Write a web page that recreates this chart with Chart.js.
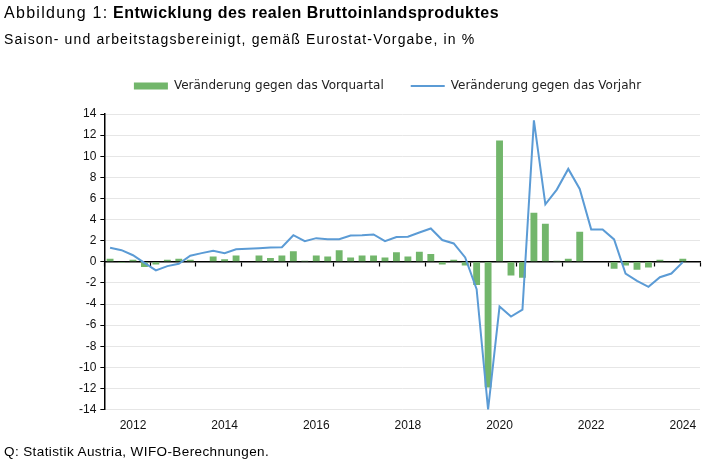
<!DOCTYPE html>
<html><head><meta charset="utf-8">
<script src="https://cdn.jsdelivr.net/npm/chart.js@4"></script>
<style>
html,body{margin:0;padding:0;background:#fff;width:712px;height:465px;overflow:hidden;font-family:"Liberation Sans",Arial,sans-serif;color:#000}
#wrap{position:relative;width:712px;height:465px}
#c{position:absolute;left:0;top:0;width:712px;height:465px}
.t{position:absolute;left:4px;white-space:nowrap;line-height:1}
#title{top:5px;font-size:16px}
#title .n{letter-spacing:1.3px}
#title b{letter-spacing:0.5px}
#sub{top:32px;font-size:14px;letter-spacing:1.15px}
#src{top:445px;font-size:13.5px;letter-spacing:0.4px}
</style></head><body>
<div id="wrap">
<canvas id="c" width="712" height="465"></canvas>
<div class="t" id="title"><span class="n">Abbildung 1:</span> <b>Entwicklung des realen Bruttoinlandsproduktes</b></div>
<div class="t" id="sub">Saison- und arbeitstagsbereinigt, gemäß Eurostat-Vorgabe, in %</div>
<div class="t" id="src">Q: Statistik Austria, WIFO-Berechnungen.</div>
</div>
<script>
const years = [2012,2013,2014,2015,2016,2017,2018,2019,2020,2021,2022,2023,2024];
const quarters = ['Q1','Q2','Q3','Q4'];
const categories = [];
years.forEach(y => quarters.forEach(q => categories.push(y + q)));
const yearTickLabels = ['2012','2014','2016','2018','2020','2022','2024'];

// Veränderung gegen das Vorquartal (%)
const qoq = [0.3,-0.1,0.2,-0.5, -0.25,0.2,0.3,0.2, 0.0,0.5,0.25,0.6, 0.0,0.6,0.35,0.6,
  1.0,0.1,0.6,0.5, 1.1,0.4,0.6,0.6, 0.4,0.9,0.5,0.95, 0.75,-0.25,0.2,-0.35,
  -2.2,-11.9,11.5,-1.3, -1.5,4.65,3.6,0.1, 0.3,2.85,0.0,0.0, -0.65,-0.35,-0.75,-0.55,
  0.2,0.0,0.3,null];
// Veränderung gegen das Vorjahr (%)
const yoy = [1.33,1.1,0.62,-0.1, -0.82,-0.41,-0.19,0.57, 0.82,1.04,0.82,1.19, 1.23,1.29,1.35,1.38,
  2.52,1.95,2.24,2.14, 2.14,2.49,2.52,2.59, 1.95,2.35,2.37,2.78, 3.16,2.06,1.74,0.41,
  -2.6,-14.0,-4.24,-5.19, -4.53,13.4,5.44,6.84, 8.8,6.9,3.07,3.07, 2.12,-1.11,-1.8,-2.37,
  -1.46,-1.11,-0.03,null];

const FONT = '"Liberation Sans", Arial, sans-serif';
Chart.defaults.font.family = FONT;
Chart.defaults.color = '#111';

new Chart(document.getElementById('c'), {
  type: 'bar',
  data: {
    labels: categories,
    datasets: [
      { type: 'bar', label: 'Veränderung gegen das Vorquartal', data: qoq,
        backgroundColor: '#72b66b', borderWidth: 0, categoryPercentage: 1, barPercentage: 0.6,
        order: 1, pointStyle: 'rect', xAxisID: 'x', yAxisID: 'y' },
      { type: 'line', label: 'Veränderung gegen das Vorjahr', data: yoy,
        borderColor: '#5b9bd5', backgroundColor: '#5b9bd5', borderWidth: 2, pointRadius: 0,
        tension: 0, order: 0, pointStyle: 'line', fill: false, xAxisID: 'x', yAxisID: 'y' }
    ]
  },
  options: {
    responsive: false,
    animation: false,
    layout: { padding: { top: 53, left: 75, right: 12, bottom: 23 } },
    plugins: {
      tooltip: { enabled: false },
      legend: {
        position: 'top',
        labels: {
          usePointStyle: true, pointStyleWidth: 34, boxHeight: 7, padding: 27,
          color: '#222', font: { size: 12, family: '"DejaVu Sans", sans-serif' },
          sort: (a, b) => a.datasetIndex - b.datasetIndex
        }
      },
      subtitle: {
        display: true, text: '', weight: 100, position: 'top',
        padding: 0, font: { size: 12, lineHeight: 1 }
      }
    },
    scales: {
      x: {
        type: 'category', position: 'bottom', offset: true,
        grid: { display: false, drawTicks: false, offset: true },
        border: { display: false },
        ticks: {
          autoSkip: false, maxRotation: 0, padding: 9, color: '#111', font: { size: 12 },
          callback: function (v, i) {
            const lab = categories[i];
            const y = lab.slice(0, 4);
            return (lab.endsWith('Q3') && yearTickLabels.includes(y)) ? y : '';
          }
        }
      },
      x2: {
        axis: 'x', type: 'category', labels: categories, offset: true, position: { y: 0 },
        grid: {
          offset: true, drawOnChartArea: false, drawTicks: true, tickLength: 4, tickWidth: 1.2,
          tickColor: c => (c.index === undefined || c.index % 4 === 0) ? '#000' : 'rgba(0,0,0,0)'
        },
        border: { display: true, color: '#000', width: 1.5 },
        ticks: { display: false }
      },
      y: {
        min: -14, max: 14,
        ticks: { stepSize: 2, padding: 4, color: '#111', font: { size: 12 }, callback: v => String(v) },
        grid: { color: '#e6e6e6', lineWidth: 1, drawTicks: true, tickLength: 4, tickColor: '#000' },
        border: { display: true, color: '#000', width: 1.5 }
      }
    }
  }
});
</script>
</body></html>
